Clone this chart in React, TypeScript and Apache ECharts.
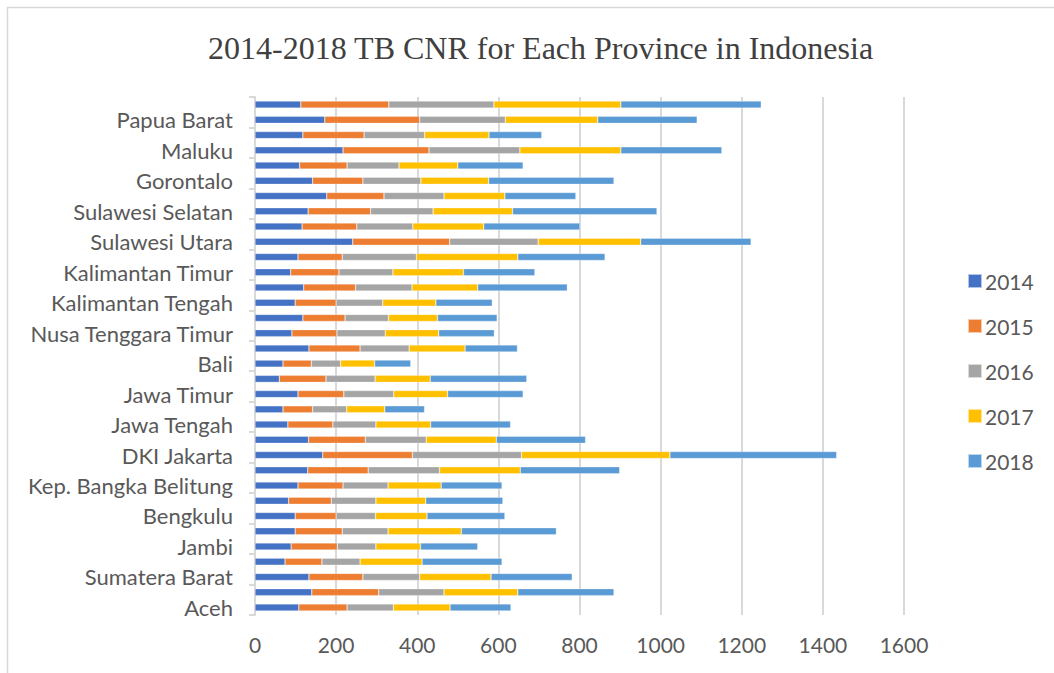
import React, { useEffect, useRef } from "react";
import * as echarts from "echarts";

const provinces = [
  "Aceh", "Sumatera Utara", "Sumatera Barat", "Riau", "Jambi", "Sumatera Selatan",
  "Bengkulu", "Lampung", "Kep. Bangka Belitung", "Kep. Riau", "DKI Jakarta", "Jawa Barat",
  "Jawa Tengah", "DI Yogyakarta", "Jawa Timur", "Banten", "Bali", "Nusa Tenggara Barat",
  "Nusa Tenggara Timur", "Kalimantan Barat", "Kalimantan Tengah", "Kalimantan Selatan",
  "Kalimantan Timur", "Kalimantan Utara", "Sulawesi Utara", "Sulawesi Tengah",
  "Sulawesi Selatan", "Sulawesi Tenggara", "Gorontalo", "Sulawesi Barat", "Maluku",
  "Maluku Utara", "Papua Barat", "Papua",
];

const years = ["2014", "2015", "2016", "2017", "2018"];

const v2014 = [108, 140, 133, 74, 89, 99, 99, 83, 106, 130, 167, 132, 81, 69, 106, 60, 69, 133, 91, 118, 99, 120, 88, 106, 241, 116, 131, 177, 142, 110, 217, 118, 172, 113];
const v2015 = [119, 165, 133, 91, 114, 116, 101, 105, 111, 149, 221, 140, 111, 73, 113, 115, 70, 126, 111, 104, 101, 128, 119, 109, 239, 135, 154, 141, 124, 117, 212, 151, 234, 217];
const v2016 = [114, 161, 140, 94, 95, 113, 97, 110, 111, 176, 269, 150, 106, 84, 123, 121, 72, 121, 119, 107, 115, 139, 133, 183, 218, 138, 154, 148, 143, 128, 224, 149, 211, 259];
const v2017 = [140, 182, 176, 153, 110, 181, 127, 123, 131, 199, 366, 173, 135, 94, 133, 136, 84, 138, 132, 121, 131, 162, 174, 250, 253, 175, 196, 150, 167, 145, 249, 159, 228, 313];
const v2018 = [150, 237, 200, 197, 141, 234, 192, 190, 150, 245, 411, 220, 197, 98, 186, 238, 89, 129, 137, 147, 139, 221, 176, 215, 272, 237, 356, 175, 309, 161, 249, 130, 245, 346];

const seriesValues = [v2014, v2015, v2016, v2017, v2018];
const colors = ["#4472C4", "#ED7D31", "#A5A5A5", "#FFC000", "#5B9BD5"];
const xTicks = { min: 0, max: 1600, interval: 200 };

const FONT = "Lato, 'Open Sans', sans-serif";

export default function App() {
  const ref = useRef<HTMLDivElement>(null);
  useEffect(() => {
    document.body.style.margin = "0";
    const chart = echarts.init(ref.current!, null, { renderer: "svg" });
    chart.setOption({
      animation: false,
      backgroundColor: "#ffffff",
      title: {
        text: "2014-2018 TB CNR for Each Province in Indonesia",
        left: 203,
        top: 27,
        textStyle: {
          fontFamily: "'Liberation Serif', 'Times New Roman', serif",
          fontSize: 32,
          fontWeight: "normal",
          color: "#404040",
        },
      },
      graphic: [
        {
          type: "rect",
          shape: { x: 7.5, y: 7.5, width: 1200, height: 800 },
          style: { fill: "none", stroke: "#d9d9d9", lineWidth: 1.5 },
          silent: true,
        },
      ],
      legend: {
        orient: "vertical",
        left: 962,
        top: 265,
        itemWidth: 14,
        itemHeight: 14,
        itemGap: 23,
        icon: "rect",
        data: years,
        textStyle: {
          fontFamily: FONT,
          fontSize: 21,
          color: "#595959",
          lineHeight: 22,
          padding: [0, 0, 0, -2],
        },
      },
      grid: { left: 255, right: 150, top: 97, bottom: 58, containLabel: false },
      xAxis: {
        type: "value",
        min: xTicks.min,
        max: xTicks.max,
        interval: xTicks.interval,
        axisLine: { show: false },
        axisTick: { show: false },
        splitLine: { lineStyle: { color: "#d9d9d9", width: 2 } },
        axisLabel: {
          fontFamily: FONT,
          fontSize: 21,
          color: "#595959",
          margin: 19,
          formatter: (v: number) => String(v),
        },
      },
      yAxis: {
        type: "category",
        data: provinces,
        axisLine: { show: true, lineStyle: { color: "#d9d9d9", width: 2 } },
        axisTick: { show: true, length: 6, lineStyle: { color: "#d9d9d9", width: 2 } },
        axisLabel: {
          interval: 1,
          fontFamily: FONT,
          fontSize: 22,
          color: "#595959",
          margin: 22,
        },
      },
      series: years.map((y, i) => ({
        name: y,
        type: "bar",
        stack: "total",
        barWidth: "46%",
        data: seriesValues[i],
        itemStyle: { color: colors[i], borderColor: "rgba(255,255,255,0.6)", borderWidth: 0.5 },
      })),
    });
    return () => chart.dispose();
  }, []);
  return <div ref={ref} style={{ width: 1054, height: 673 }} />;
}
